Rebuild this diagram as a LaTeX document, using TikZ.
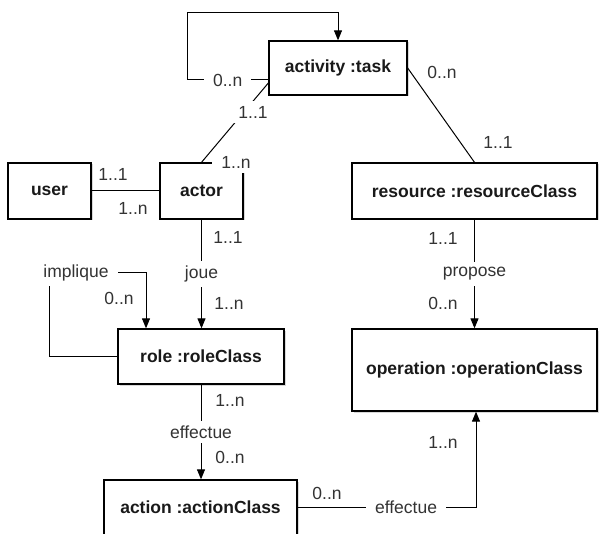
\documentclass[tikz,border=0pt]{standalone}
\usepackage{fontspec}
\setmainfont{Liberation Sans}
\usetikzlibrary{arrows.meta,shadows}
\begin{document}
\begin{tikzpicture}[x=1pt,y=-1pt,
  box/.style={draw=black,line width=1.3pt,fill=white,inner sep=2pt,
    font=\bfseries\fontsize{17.5}{20}\selectfont,text=black!90,
    drop shadow={shadow xshift=1.5pt,shadow yshift=-1.5pt,opacity=0.3}},
  conn/.style={line width=1pt,draw=black},
  arr/.style={conn,-{Triangle[length=10pt,width=8pt]}},
  lab/.style={fill=white,inner xsep=9pt,inner ysep=5pt,
    font=\fontsize{17.5}{20}\selectfont,text=black!80},
  mult/.style={lab,inner xsep=2pt,inner ysep=2pt}
]
\fill[white] (0,0) rectangle (599,534);
\useasboundingbox (0,0) rectangle (599,534);

% boxes
\node[box,minimum width=138pt,minimum height=54pt] (act) at (338,68) {activity :task};
\node[box,minimum width=83pt,minimum height=56pt] (user) at (49.5,191) {user};
\node[box,minimum width=83pt,minimum height=56pt] (actor) at (201.5,191) {actor};
\node[box,minimum width=245pt,minimum height=56pt] (res) at (474.5,191) {resource :resourceClass};
\node[box,minimum width=245pt,minimum height=82pt] (op) at (474.5,370) {operation :operationClass};
\node[box,minimum width=166pt,minimum height=55pt] (role) at (201,356.5) {role :roleClass};
\node[box,minimum width=193pt,minimum height=55pt] (action) at (200.5,507.5) {action :actionClass};

% activity self loop
\coordinate (a1) at (187,80);
\coordinate (a2) at (187,13);
\draw[arr] ([yshift=-12pt]act.west) -- node[lab]{0..n} (a1) -- (a2) -| (act.north);

% activity - actor
\draw[conn] ([yshift=-15pt]act.west) -- (actor.north);

% user - actor
\draw[conn] (user) -- (actor);

% actor - role
\draw[arr] (actor.south) -- node[lab]{joue} (actor.south |- role.north);

% implique loop
\coordinate (i1) at (49,273);
\draw[arr] (role.west) -| (i1) -| ([xshift=-55pt]role.north);

% role - action
\draw[arr] (role.south) -- node[lab]{effectue} (role.south |- action.north);

% action - operation
\draw[arr] (action.east) -| ([xshift=1.5pt]op.south);

% activity - resource
\draw[conn] (act.east) -- (res.north);

% resource - operation
\draw[arr] (res.south) -- node[lab]{propose} (op.north);

% labels
\node[lab] (m1) at (253,112) {1..1};
\node[lab] (m2) at (236,162) {1..n};
\node[mult] (m3) at (113,174) {1..1};
\node[mult] (m4) at (133,208) {1..n};
\node[mult] (m5) at (228,237) {1..1};
\node[mult] (m6) at (229,303) {1..n};
\node[lab] (limp) at (76,273) {implique};
\node[mult] (m7) at (119,298) {0..n};
\node[mult] (m8) at (230,400) {1..n};
\node[mult] (m9) at (230,457) {0..n};
\node[lab] (leff) at (406,507) {effectue};
\node[mult] (m10) at (327,493) {0..n};
\node[mult] (m11) at (443,442) {1..n};
\node[mult] (m12) at (442,72) {0..n};
\node[mult] (m13) at (498,142) {1..1};
\node[mult] (m14) at (443,238) {1..1};
\node[mult] (m15) at (443,303) {0..n};
\end{tikzpicture}
\end{document}
